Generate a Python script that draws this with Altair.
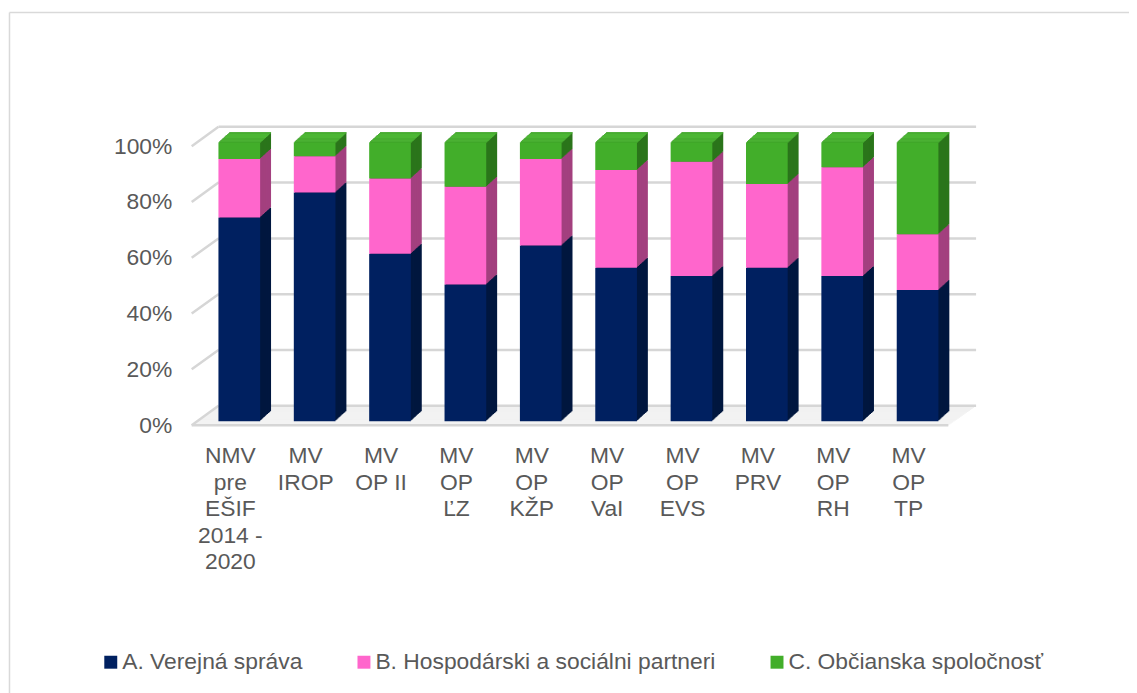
import altair as alt
import pandas as pd

# ---------------- data ----------------
categories = [
    "NMV\npre\nEŠIF\n2014 -\n2020",
    "MV\nIROP",
    "MV\nOP II",
    "MV\nOP\nĽZ",
    "MV\nOP\nKŽP",
    "MV\nOP\nVaI",
    "MV\nOP\nEVS",
    "MV\nPRV",
    "MV\nOP\nRH",
    "MV\nOP\nTP",
]
verejna_sprava = [73, 82, 60, 49, 63, 55, 52, 55, 52, 47]
hospodarski_partneri = [21, 13, 27, 35, 31, 35, 41, 30, 39, 20]
obcianska_spolocnost = [6, 5, 13, 16, 6, 10, 7, 15, 9, 33]
series_names = [
    "A. Verejná správa",
    "B. Hospodárski a sociálni partneri",
    "C. Občianska spoločnosť",
]
y_ticks = [0, 0.2, 0.4, 0.6, 0.8, 1.0]

# ---------------- style ----------------
front_colors = ["#002060", "#FF66CC", "#42AE2A"]
side_colors = ["#00173F", "#A3407F", "#2B751B"]
top_color = "#4CB634"
text_color = "#595959"
grid_color = "#d6d6d6"
FONT = "Liberation Sans"

W, H = 779, 281
DEPTH = 11          # bar depth steps (px to the right)
DY = 10.0 / 11.0    # vertical rise per step

rows = []
for i, c in enumerate(categories):
    vals = [verejna_sprava[i], hospodarski_partneri[i], obcianska_spolocnost[i]]
    tot = float(sum(vals))
    acc = 0.0
    for j, v in enumerate(vals):
        rows.append(dict(cat=c, series=series_names[j], start=acc / tot,
                         end=(acc + v) / tot, side=side_colors[j], is_top=(j == 2)))
        acc += v
df = pd.DataFrame(rows)
top_df = df[df["is_top"]].copy()
grid_df = pd.DataFrame({"v": y_ticks})
one_df = pd.DataFrame({"v": [0.0]})

yscale = alt.Scale(domain=[0, 1], nice=False, zero=False)
xscale = alt.Scale(domain=categories, paddingInner=0.447, paddingOuter=0.355)

X_AX = alt.Axis(
    labelExpr="split(datum.value, '\\n')",
    labelFontSize=23, labelLineHeight=26.7, labelColor=text_color,
    labelFont=FONT, labelAngle=0, labelPadding=24, labelOffset=-9,
    labelBaseline="top", labelLimit=300, title=None,
    domain=False, ticks=False, grid=False,
)
Y_AX = alt.Axis(
    values=y_ticks, format=".0%", labelFontSize=23, labelColor=text_color,
    labelFont=FONT, labelPadding=20, labelOffset=4, labelFlush=False,
    labelOverlap=False, domain=False, ticks=False, grid=False, title=None,
)


def xenc():
    return alt.X("cat:N", sort=categories, scale=xscale, title=None, axis=X_AX)


def yenc(field):
    return alt.Y(field, scale=yscale, title=None, axis=Y_AX)


layers = []

# chart border (top and left edges visible)
layers.append(
    alt.Chart(one_df).mark_rule(color="#d9d9d9", strokeWidth=1.5).encode(
        x=alt.value(-183.5), x2=alt.value(960), y=alt.value(-130.7))
)
layers.append(
    alt.Chart(one_df).mark_rule(color="#d9d9d9", strokeWidth=1.5).encode(
        x=alt.value(-183.5), y=alt.value(-130.7), y2=alt.value(560))
)

# floor fill (parallelogram built from thin strips)
n_floor = 20
for i in range(n_floor):
    frac = (i + 0.5) / n_floor
    layers.append(
        alt.Chart(one_df).mark_rect(color="#f1f1f1", yOffset=4 - (i + 1) * 0.975,
                                    y2Offset=4 - i * 0.975 + 0.3).encode(
            x=alt.value(27 * frac), x2=alt.value(762 + 28 * frac),
            y=yenc("v:Q"), y2="v:Q")
    )

# back wall gridlines
layers.append(
    alt.Chart(grid_df).mark_rule(color=grid_color, strokeWidth=2.5, yOffset=-15.5).encode(
        y=yenc("v:Q"), x=alt.value(27), x2=alt.value(790))
)
# left side wall diagonals
layers.append(
    alt.Chart(grid_df).mark_rule(color=grid_color, strokeWidth=2.5, yOffset=4,
                                 y2Offset=-15.5).encode(
        y=yenc("v:Q"), y2="v:Q",
        x=alt.value(0), x2=alt.value(27))
)
# front floor edge
layers.append(
    alt.Chart(one_df).mark_rule(color=grid_color, strokeWidth=2.5, yOffset=4).encode(
        y=yenc("v:Q"), x=alt.value(0), x2=alt.value(762))
)

# bar sides (staircase of shifted copies, farthest first)
for k in range(DEPTH, 0, -1):
    layers.append(
        alt.Chart(df).mark_bar(xOffset=k, yOffset=-k * DY, y2Offset=-k * DY).encode(
            x=xenc(), y=yenc("start:Q"), y2="end:Q",
            color=alt.Color("side:N", scale=None))
    )
# bar tops
for k in range(1, DEPTH + 1):
    layers.append(
        alt.Chart(top_df).mark_bar(color=top_color, xOffset=k, yOffset=-k * DY,
                                   y2Offset=-(k - 1) * DY + 0.3).encode(
            x=xenc(), y=yenc("end:Q"), y2="end:Q")
    )

# front faces
layers.append(
    alt.Chart(df).mark_bar().encode(
        x=xenc(), y=yenc("start:Q"), y2="end:Q",
        color=alt.Color(
            "series:N",
            scale=alt.Scale(domain=series_names, range=front_colors),
            legend=alt.Legend(
                title=None, orient="none", legendX=-93, legendY=512, padding=0,
                direction="horizontal", symbolType="square", symbolSize=170,
                symbolStrokeWidth=0, labelFontSize=23, labelFont=FONT,
                labelColor=text_color, columnPadding=50, labelLimit=600,
                labelOffset=0,
            ),
        ),
    )
)

chart = alt.layer(*layers).properties(
    width=W, height=H, background="white",
    autosize=alt.AutoSizeParams(type="none"),
    padding={"left": 185, "top": 132.7, "right": 165, "bottom": 271},
).configure_view(stroke=None)

chart.save("out.html", embed_options={"renderer": "svg", "actions": False})
